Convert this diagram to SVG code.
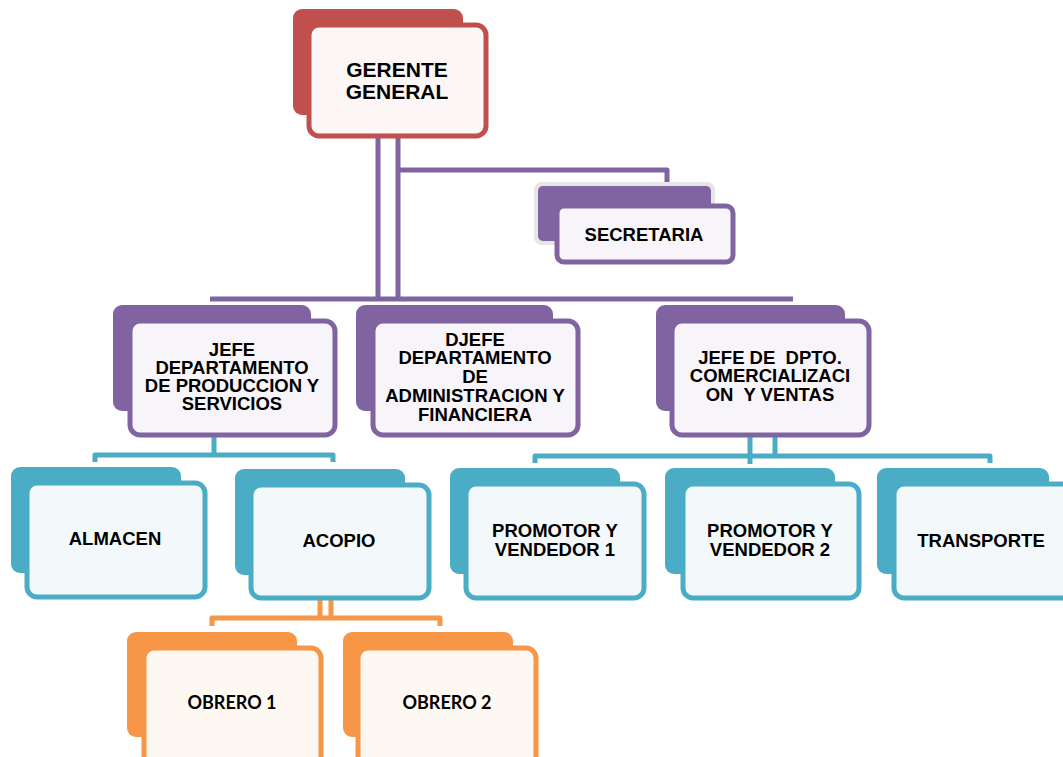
<svg xmlns="http://www.w3.org/2000/svg" width="1063" height="757" viewBox="0 0 1063 757">
  <defs>
    <style>
      .bg{fill:#ffffff}
      .back-red{fill:#c0504d}
      .back-pur{fill:#8064a2}
      .back-teal{fill:#4bacc6}
      .back-org{fill:#f79646}
      .front{stroke-width:5}
      .front-red{fill:#fcf6f6;stroke:#c0504d}
      .front-pur{fill:#f7f5f9;stroke:#8064a2}
      .front-teal{fill:#f3f9fb;stroke:#4bacc6}
      .front-org{fill:#fef8f3;stroke:#f79646}
      .t{font-family:"Liberation Sans",Arial,sans-serif;font-weight:bold;font-size:18.5px;text-anchor:middle;fill:#000}
      .t-big{font-size:21px}
      .t-cal{font-family:Lato,"Liberation Sans",sans-serif;font-size:18px}
      .ln{fill:none;stroke-width:5;stroke-linejoin:round}
      .ln-pur{stroke:#8064a2}
      .ln-teal{stroke:#4bacc6}
      .ln-org{stroke:#f79646}
    </style>
  </defs>
  <rect class="bg" x="0" y="0" width="1063" height="757"/>

  <!-- connectors -->
  <g id="connectors">
    <!-- director to secretary and department heads -->
    <path class="ln ln-pur" d="M378 138 V299 M398 138 V299"/>
    <path class="ln ln-pur" d="M398 170 H667 V186"/>
    <path class="ln ln-pur" d="M210 299 H793" stroke-width="4"/>
    <!-- production head to storage / collection -->
    <path class="ln ln-teal" d="M214 435 V455 M95 462 V455 H333 V462"/>
    <!-- commercial head to sales / transport -->
    <path class="ln ln-teal" d="M750 435 V464 M775 435 V456 M535 463 V456 H990 V463"/>
    <!-- collection to workers -->
    <path class="ln ln-org" d="M320 598 V618 M331 598 V618 M212 626 V618 H440 V626"/>
  </g>

  <!-- GERENTE GENERAL -->
  <g id="gerente">
    <rect class="back-red" x="293" y="9" width="170" height="106" rx="9"/>
    <rect class="front front-red" x="309" y="25" width="177" height="111" rx="10"/>
    <text class="t t-big" x="397" y="77">GERENTE</text>
    <text class="t t-big" x="397" y="99">GENERAL</text>
  </g>

  <!-- SECRETARIA -->
  <g id="secretaria">
    <rect x="534" y="182" width="181" height="63" rx="8" fill="#e6e6e6"/>
    <rect class="back-pur" x="538" y="186" width="173" height="55" rx="5"/>
    <rect class="front front-pur" x="557" y="206" width="176" height="56" rx="7"/>
    <text class="t" x="644" y="241">SECRETARIA</text>
  </g>

  <!-- JEFE DEPARTAMENTO DE PRODUCCION Y SERVICIOS -->
  <g id="jefe-produccion">
    <rect class="back-pur" x="113" y="305" width="198" height="106" rx="9"/>
    <rect class="front front-pur" x="130" y="321" width="205" height="114" rx="10"/>
    <text class="t" x="232" y="356">JEFE</text>
    <text class="t" x="232" y="374">DEPARTAMENTO</text>
    <text class="t" x="232" y="392">DE PRODUCCION Y</text>
    <text class="t" x="232" y="410">SERVICIOS</text>
  </g>

  <!-- DJEFE DEPARTAMENTO DE ADMINISTRACION Y FINANCIERA -->
  <g id="jefe-administracion">
    <rect class="back-pur" x="356" y="305" width="197" height="106" rx="9"/>
    <rect class="front front-pur" x="373" y="321" width="205" height="114" rx="10"/>
    <text class="t" x="475" y="346">DJEFE</text>
    <text class="t" x="475" y="364">DEPARTAMENTO</text>
    <text class="t" x="475" y="383">DE</text>
    <text class="t" x="475" y="402">ADMINISTRACION Y</text>
    <text class="t" x="475" y="421">FINANCIERA</text>
  </g>

  <!-- JEFE DE DPTO. COMERCIALIZACION Y VENTAS -->
  <g id="jefe-comercial">
    <rect class="back-pur" x="656" y="305" width="189" height="106" rx="9"/>
    <rect class="front front-pur" x="672" y="321" width="197" height="114" rx="10"/>
    <text class="t" x="770" y="364" xml:space="preserve">JEFE DE  DPTO.</text>
    <text class="t" x="770" y="382">COMERCIALIZACI</text>
    <text class="t" x="770" y="401" xml:space="preserve">ON  Y VENTAS</text>
  </g>

  <!-- ALMACEN -->
  <g id="almacen">
    <rect class="back-teal" x="11" y="467" width="170" height="106" rx="9"/>
    <rect class="front front-teal" x="27" y="483" width="178" height="114" rx="10"/>
    <text class="t" x="115" y="545">ALMACEN</text>
  </g>

  <!-- ACOPIO -->
  <g id="acopio">
    <rect class="back-teal" x="235" y="469" width="170" height="106" rx="9"/>
    <rect class="front front-teal" x="251" y="485" width="178" height="113" rx="10"/>
    <text class="t" x="339" y="547">ACOPIO</text>
  </g>

  <!-- PROMOTOR Y VENDEDOR 1 -->
  <g id="promotor-1">
    <rect class="back-teal" x="450" y="468" width="170" height="106" rx="9"/>
    <rect class="front front-teal" x="466" y="484" width="178" height="114" rx="10"/>
    <text class="t" x="555" y="537">PROMOTOR Y</text>
    <text class="t" x="555" y="556">VENDEDOR 1</text>
  </g>

  <!-- PROMOTOR Y VENDEDOR 2 -->
  <g id="promotor-2">
    <rect class="back-teal" x="665" y="468" width="170" height="106" rx="9"/>
    <rect class="front front-teal" x="683" y="484" width="176" height="114" rx="10"/>
    <text class="t" x="770" y="537">PROMOTOR Y</text>
    <text class="t" x="770" y="556">VENDEDOR 2</text>
  </g>

  <!-- TRANSPORTE -->
  <g id="transporte">
    <rect class="back-teal" x="877" y="468" width="172" height="106" rx="9"/>
    <rect class="front front-teal" x="894" y="484" width="180" height="114" rx="10"/>
    <text class="t" x="981" y="547">TRANSPORTE</text>
  </g>

  <!-- OBRERO 1 -->
  <g id="obrero-1">
    <rect class="back-org" x="127" y="632" width="170" height="105" rx="9"/>
    <rect class="front front-org" x="144" y="648" width="177" height="120" rx="10"/>
    <text class="t t-cal" x="232" y="709">OBRERO 1</text>
  </g>

  <!-- OBRERO 2 -->
  <g id="obrero-2">
    <rect class="back-org" x="343" y="632" width="170" height="105" rx="9"/>
    <rect class="front front-org" x="358" y="648" width="178" height="120" rx="10"/>
    <text class="t t-cal" x="447" y="709">OBRERO 2</text>
  </g>
</svg>
